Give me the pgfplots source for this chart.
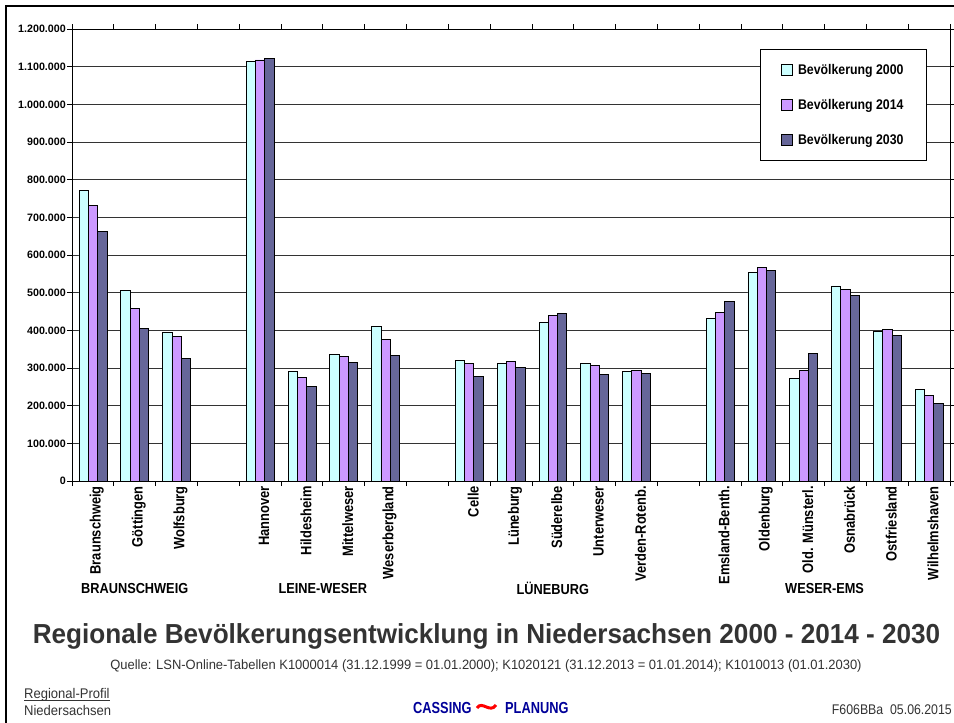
\documentclass[border=0pt]{standalone}
\usepackage{fontspec}
\setmainfont{Liberation Sans}
\newfontfamily\fTitle[FakeStretch=0.95]{Liberation Sans}
\newfontfamily\fNarrow[FakeStretch=0.88]{Liberation Sans}
\newfontfamily\fTick[FakeStretch=0.86]{Liberation Sans}
\newfontfamily\fSub[FakeStretch=0.96]{Liberation Sans}
\newfontfamily\fBL[FakeStretch=0.93]{Liberation Sans}
\newfontfamily\fLeg[FakeStretch=0.88]{Liberation Sans}
\newfontfamily\fLogo[FakeStretch=0.8]{Liberation Sans}
\newfontfamily\fCode[FakeStretch=0.88]{Liberation Sans}
\usepackage{pgfplots}
\usepackage{pgfplotstable}
\pgfplotsset{compat=1.18}
\definecolor{cA}{HTML}{CCFFFF}
\definecolor{cB}{HTML}{CC99FF}
\definecolor{cC}{HTML}{666699}
\definecolor{txt}{HTML}{333333}
\definecolor{logoblue}{HTML}{000099}

\pgfplotstableread{
x       a        b        c
0   771000   731000   662000
1   505000   458000   406000
2   394000   383000   326000
4  1113000  1118000  1123000
5   291000   276000   252000
6   336000   331000   315000
7   410000   375000   334000
9   320000   312000   278000
10  312000   318000   302000
11  420000   440000   444000
12  312000   307000   284000
13  292000   294000   286000
15  431000   447000   476000
16  554000   567000   560000
17  273000   293000   339000
18  518000   508000   492000
19  396000   402000   386000
20  244000   228000   207000
}\data

\begin{document}
\begin{tikzpicture}
\useasboundingbox (0,0) rectangle (954bp,-723bp);
\fill[white] (0,0) rectangle (954bp,-723bp);
\draw[black, line width=2.5bp] (6bp,-730bp) -- (6bp,-6bp) -- (960bp,-6bp);
\begin{axis}[
  at={(72bp,-481bp)}, anchor=south west,
  width=878bp, height=452bp, scale only axis,
  xmin=-0.5, xmax=20.5, ymin=0, ymax=1200000,
  ybar=0pt, bar width=9.3bp,
  ytick={0,100000,...,1200000},
  scaled y ticks=false,
  yticklabel={\pgfmathprintnumber[fixed,precision=0,1000 sep={.},assume math mode=true]{\tick}},
  yticklabel style={font=\fontsize{10.7bp}{12bp}\selectfont\bfseries, inner sep=1bp},
  xtick={0,1,2,4,5,6,7,9,10,11,12,13,15,16,17,18,19,20},
  xticklabels={Braunschweig,Göttingen,Wolfsburg,Hannover,Hildesheim,Mittelweser,Weserbergland,Celle,Lüneburg,Süderelbe,Unterweser,Verden-Rotenb.,Emsland-Benth.,Oldenburg,Old. Münsterl.,Osnabrück,Ostfriesland,Wilhelmshaven},
  xticklabel style={rotate=90, anchor=east, inner sep=0pt, yshift=-4bp, font=\fTick\bfseries\fontsize{15bp}{17bp}\selectfont},
  minor xtick={-0.5,0.5,...,20.5},
  tick align=outside,
  major tick length=5bp, minor tick length=5bp,
  major x tick style={draw=none},
  minor x tick style={black, line width=0.8bp},
  major y tick style={black, line width=0.8bp},
  ymajorgrids, major grid style={black!80, line width=0.6bp},
  axis line style={black, line width=0.8bp},
  clip=false,
  legend style={at={(0.7836,0.9558)}, anchor=north west, draw=black, line width=0.8bp, fill=white,
    font=\fLeg\bfseries\fontsize{14bp}{16bp}\selectfont, inner xsep=21bp, inner ysep=12.5bp, row sep=19.5bp},
  legend cell align=left,
  mylegend/.style={legend image code/.code={\draw[##1, line width=0.7bp] (0bp,-5.5bp) rectangle (11bp,5.5bp); \path (14bp,0bp);}},
]
\addplot[fill=cA, draw=black, line width=0.7bp, mylegend] table[x=x, y=a] {\data};
\addplot[fill=cB, draw=black, line width=0.7bp, mylegend] table[x=x, y=b] {\data};
\addplot[fill=cC, draw=black, line width=0.7bp, mylegend] table[x=x, y=c] {\data};
\legend{Bevölkerung 2000, Bevölkerung 2014, Bevölkerung 2030}
\node[font=\fNarrow\bfseries\fontsize{14.5bp}{16bp}\selectfont] at ([yshift=-107bp]axis cs:1,0) {BRAUNSCHWEIG};
\node[font=\fNarrow\bfseries\fontsize{14.5bp}{16bp}\selectfont] at ([yshift=-107bp]axis cs:5.5,0) {LEINE-WESER};
\node[font=\fNarrow\bfseries\fontsize{14.5bp}{16bp}\selectfont] at ([yshift=-107bp]axis cs:11,0) {LÜNEBURG};
\node[font=\fNarrow\bfseries\fontsize{14.5bp}{16bp}\selectfont] at ([yshift=-107bp]axis cs:17.5,0) {WESER-EMS};
\end{axis}
\node[anchor=base, text=txt, font=\fTitle\bfseries\fontsize{27.5bp}{30bp}\selectfont, inner sep=0pt] at (486.5bp,-643bp) {Regionale Bevölkerungsentwicklung in Niedersachsen 2000 - 2014 - 2030};
\node[anchor=base, text=txt, font=\fSub\fontsize{13.5bp}{15bp}\selectfont, inner sep=0pt] at (486bp,-669bp) {Quelle: LSN-Online-Tabellen K1000014 (31.12.1999 = 01.01.2000); K1020121 (31.12.2013 = 01.01.2014); K1010013 (01.01.2030)};
\node[anchor=base west, text=txt, font=\fBL\fontsize{14bp}{16bp}\selectfont, inner sep=0pt] (rp) at (24bp,-698bp) {Regional-Profil};
\draw[txt, line width=0.8bp] (24bp,-700.5bp) -- (rp.east |- 0,-700.5bp);
\node[anchor=base west, text=txt, font=\fBL\fontsize{14bp}{16bp}\selectfont, inner sep=0pt] at (24bp,-715.5bp) {Niedersachsen};
\node[anchor=base west, text=logoblue, font=\fLogo\bfseries\fontsize{16bp}{18bp}\selectfont, inner sep=0pt] at (413bp,-713bp) {CASSING};
\draw[red, line width=3bp] (477bp,-708bp) .. controls (482bp,-700bp) and (490bp,-714bp) .. (496bp,-705bp);
\node[anchor=base west, text=logoblue, font=\fLogo\bfseries\fontsize{16bp}{18bp}\selectfont, inner sep=0pt] at (505bp,-713bp) {PLANUNG};
\node[anchor=base east, text=txt, font=\fCode\fontsize{14bp}{16bp}\selectfont, inner sep=0pt] at (952bp,-714bp) {F606BBa\ \ 05.06.2015};
\end{tikzpicture}
\end{document}
